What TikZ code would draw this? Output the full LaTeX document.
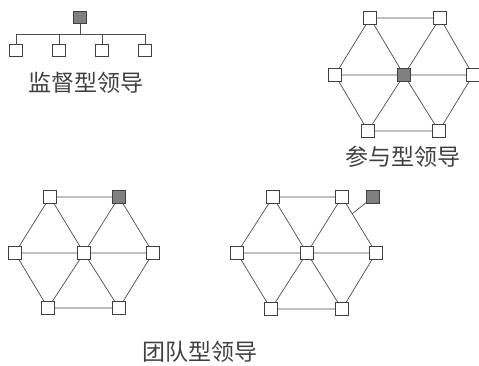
\documentclass[tikz,border=0pt]{standalone}
\usepackage{fontspec}
\usetikzlibrary{calc}
\newfontfamily\cjk{Noto Sans CJK SC}
\begin{document}
\begin{tikzpicture}[x=1pt,y=-1pt,
  sq/.style={draw=black!75,fill=white,line width=0.8pt,minimum size=12.5pt,inner sep=0pt},
  sqf/.style={sq,fill=black!50},
  ln/.style={draw=black!70,line width=0.7pt},
  lbl/.style={font=\cjk\fontsize{23}{23}\selectfont,text=black!75,inner sep=0pt}]
\useasboundingbox (0,0) rectangle (479,365);
% supervisory
\node[sqf] (s0) at (80,17.5) {};
\coordinate (sb) at (80,34);
\node[sq] (s1) at (16,50.5) {};
\node[sq] (s2) at (59,50.5) {};
\node[sq] (s3) at (102,50.5) {};
\node[sq] (s4) at (145,50.5) {};
\coordinate (sl) at (16,34);
\coordinate (sr) at (145,34);
\draw[ln] (s0) -- (sb);
\draw[ln] (sl) -- (sr);
\draw[ln] (sl) -- (s1);
\draw[ln] (s2.north) -- (s2.north |- sb);
\draw[ln] (s3.north) -- (s3.north |- sb);
\draw[ln] (sr) -- (s4);
\node[lbl] (t1) at (86,83) {监督型领导};
% participative
\node[sq] (p1) at (370,18) {};
\node[sq] (p2) at (440,18) {};
\node[sq] (p3) at (335,75) {};
\node[sqf] (p0) at (404,75) {};
\node[sq] (p4) at (473,75) {};
\node[sq] (p5) at (368,131) {};
\node[sq] (p6) at (439,131) {};
\draw[ln] (p1)--(p2) (p2)--(p4) (p4)--(p6) (p6)--(p5) (p5)--(p3) (p3)--(p1)
  (p1)--(p0) (p2)--(p0) (p3)--(p0) (p4)--(p0) (p5)--(p0) (p6)--(p0);
\node[lbl] (t2) at (403,157) {参与型领导};
% team A
\node[sq] (a1) at (50,197) {};
\node[sqf] (a2) at (119,197) {};
\node[sq] (a3) at (15,253) {};
\node[sq] (a0) at (84,253) {};
\node[sq] (a4) at (153,253) {};
\node[sq] (a5) at (48,308) {};
\node[sq] (a6) at (119,308) {};
\draw[ln] (a1)--(a2) (a2)--(a4) (a4)--(a6) (a6)--(a5) (a5)--(a3) (a3)--(a1)
  (a1)--(a0) (a2)--(a0) (a3)--(a0) (a4)--(a0) (a5)--(a0) (a6)--(a0);
% team B
\node[sq] (b1) at (273,197) {};
\node[sq] (b2) at (342,197) {};
\node[sq] (b3) at (237,253) {};
\node[sq] (b0) at (307,253) {};
\node[sq] (b4) at (376,253) {};
\node[sq] (b5) at (271,309) {};
\node[sq] (b6) at (342,309) {};
\node[sqf] (bx) at (373,197) {};
\draw[ln] (b1)--(b2) (b2)--(b4) (b4)--(b6) (b6)--(b5) (b5)--(b3) (b3)--(b1)
  (b1)--(b0) (b2)--(b0) (b3)--(b0) (b4)--(b0) (b5)--(b0) (b6)--(b0);
\coordinate (bm) at ($(b2)!0.3!(b4)$);
\draw[ln] (bx) -- (bm);
\node[lbl] (t3) at (200,352) {团队型领导};
\end{tikzpicture}
\end{document}
